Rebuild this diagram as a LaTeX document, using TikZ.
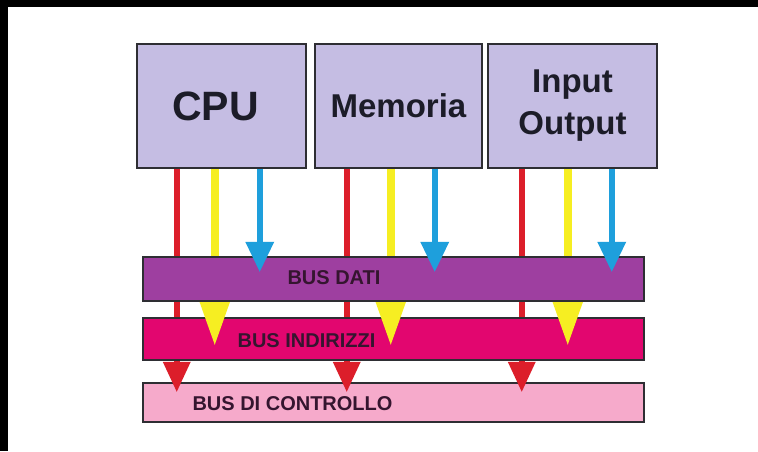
\documentclass[tikz,border=0pt]{standalone}
\usepackage{fontspec}
\setmainfont{Liberation Sans}
\usetikzlibrary{arrows.meta,calc}
\definecolor{boxfill}{HTML}{C5BDE3}
\definecolor{boxline}{HTML}{2E2E33}
\definecolor{txt}{HTML}{1C1C28}
\definecolor{bustxt}{HTML}{35152F}
\definecolor{datifill}{HTML}{9E3FA0}
\definecolor{indfill}{HTML}{E2066F}
\definecolor{ctrlfill}{HTML}{F6AACB}
\definecolor{redc}{HTML}{DC1E2A}
\definecolor{yelc}{HTML}{F6EE22}
\definecolor{bluec}{HTML}{1E9FDC}
\tikzset{
  comp/.style={draw=boxline, fill=boxfill, line width=2.5pt, inner sep=0pt,
    minimum height=124pt, text=txt, font=\bfseries, align=center},
  busbox/.style={draw=boxline, line width=2.5pt, inner sep=0pt, minimum width=501pt},
  bustext/.style={text=bustxt, font=\bfseries\fontsize{20}{22}\selectfont, inner sep=0pt},
  redarr/.style={draw=redc, line width=6pt, -{Triangle[length=30pt,width=28pt,line width=0pt]}, redc},
  yelarr/.style={draw=yelc, line width=8pt, -{Triangle[length=45pt,width=32pt,line width=0pt]}, yelc},
  bluearr/.style={draw=bluec, line width=6pt, -{Triangle[length=30pt,width=29pt,line width=0pt]}, bluec}
}
\begin{document}
\begin{tikzpicture}[x=1pt,y=-1pt]
\useasboundingbox (0,0) rectangle (758,451);
\fill[white] (0,0) rectangle (758,451);
\fill[black] (0,0) rectangle (758,7);
\fill[black] (0,0) rectangle (8,451);

% components
\node[comp, minimum width=169pt, font=\bfseries\fontsize{41}{44}\selectfont] (cpu) at (221.5,106)
  {\raisebox{-5pt}{CPU}\hspace{12pt}};
\node[comp, minimum width=167pt, font=\bfseries\fontsize{33}{36}\selectfont] (mem) at (398.5,106)
  {\raisebox{-4pt}{Memoria}};
\node[comp, minimum width=169pt, font=\bfseries\fontsize{33}{42}\selectfont] (io) at (572.5,106)
  {Input\\Output};

% bus di controllo
\node[busbox, fill=ctrlfill, minimum height=39pt] (ctrl) at (393.5,402.5) {};
\node[bustext] (tctrl) at (292.5,404) {BUS DI CONTROLLO};
\draw[redarr] ($(cpu.south west)+(41,0)$) -- ($(cpu.south west |- ctrl.north)+(41,10)$);
\draw[redarr] ($(mem.south west)+(33,0)$) -- ($(mem.south west |- ctrl.north)+(33,10)$);
\draw[redarr] ($(io.south west)+(35,0)$) -- ($(io.south west |- ctrl.north)+(35,10)$);

% bus indirizzi
\node[busbox, fill=indfill, minimum height=42pt] (ind) at (393.5,339) {};
\node[bustext] (tind) at (306.5,341) {BUS INDIRIZZI};
\draw[yelarr] ($(cpu.south west)+(79,0)$) -- ($(cpu.south west |- ind.north)+(79,28)$);
\draw[yelarr] ($(mem.south west)+(77,0)$) -- ($(mem.south west |- ind.north)+(77,28)$);
\draw[yelarr] ($(io.south west)+(81,0)$) -- ($(io.south west |- ind.north)+(81,28)$);

% bus dati
\node[busbox, fill=datifill, minimum height=44pt] (dati) at (393.5,279) {};
\node[bustext] (tdati) at (334,278) {BUS DATI};
\draw[bluearr] ($(cpu.south west)+(124,0)$) -- ($(cpu.south west |- dati.north)+(124,16)$);
\draw[bluearr] ($(mem.south west)+(121,0)$) -- ($(mem.south west |- dati.north)+(121,16)$);
\draw[bluearr] ($(io.south west)+(125,0)$) -- ($(io.south west |- dati.north)+(125,16)$);
\end{tikzpicture}
\end{document}
